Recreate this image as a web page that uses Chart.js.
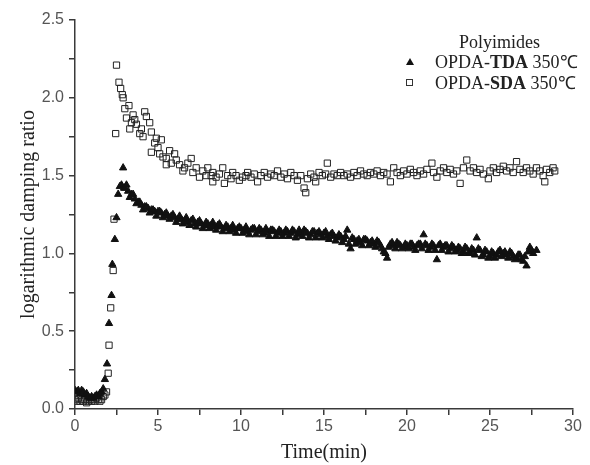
<!DOCTYPE html>
<html>
<head>
<meta charset="utf-8">
<script src="https://cdn.jsdelivr.net/npm/chart.js@4"></script>
<style>
  body { margin: 0; background: #fff; }
  #wrap { position: relative; width: 590px; height: 465px; }
  #legend { position: absolute; left: 0; top: 0; font-family: "Liberation Serif", serif; font-size: 18px; color: #222; }
  #legend div { position: absolute; white-space: nowrap; line-height: 22px; }
  .tri { position: absolute; width: 0; height: 0; border-left: 4px solid transparent; border-right: 4px solid transparent; border-bottom: 7px solid #111; }
  .sq { position: absolute; width: 5px; height: 5px; border: 1px solid #333; }
</style>
</head>
<body>
<div id="wrap">
  <canvas id="chart" width="590" height="465"></canvas>
  <div id="legend">
    <div style="left:459px; top:31px;">Polyimides</div>
    <span class="tri" style="left:406px; top:58px;"></span>
    <div style="left:435px; top:51px;">OPDA-<b>TDA</b> 350℃</div>
    <span class="sq" style="left:406px; top:79px;"></span>
    <div style="left:435px; top:72px;">OPDA-<b>SDA</b> 350℃</div>
  </div>
</div>
<script>
// time (min), logarithmic damping ratio
const tdaPoints = [
  [0,0.12],[0.1,0.11],[0.2,0.12],[0.3,0.10],[0.4,0.12],[0.5,0.11],[0.6,0.09],[0.7,0.10],[0.8,0.08],[0.9,0.07],
  [1.0,0.08],[1.1,0.07],[1.2,0.08],[1.3,0.09],[1.4,0.08],[1.5,0.10],[1.6,0.11],[1.7,0.13],[1.8,0.19],[1.93,0.29],
  [2.05,0.55],[2.2,0.73],[2.25,0.93],[2.4,1.09],[2.5,1.23],[2.6,1.38],[2.7,1.43],[2.8,1.44],[2.9,1.55],[2.95,1.42],
  [3.0,1.42],[3.2,1.40],[3.4,1.38],[3.6,1.35],[3.8,1.33],[4.0,1.31],[4.2,1.30],[4.4,1.29],[4.6,1.28],[4.8,1.27],
  [5.0,1.27],[5.2,1.26],[5.4,1.25],[5.6,1.24],[5.8,1.24],[6.0,1.23],[6.2,1.22],[6.4,1.22],[6.6,1.21],[6.8,1.20],
  [7.0,1.21],[7.2,1.19],[7.4,1.20],[7.6,1.19],[7.8,1.18],[8.0,1.19],[8.2,1.18],[8.4,1.17],[8.6,1.18],[8.8,1.17],
  [9.0,1.16],[9.2,1.17],[9.4,1.16],[9.6,1.15],[9.8,1.16],[10.0,1.16],[10.2,1.15],[10.4,1.14],[10.6,1.15],[10.8,1.16],
  [11.0,1.14],[11.2,1.15],[11.4,1.13],[11.6,1.14],[11.8,1.15],[12.0,1.14],[12.2,1.13],[12.4,1.14],[12.6,1.13],[12.8,1.14],
  [13.0,1.13],[13.2,1.14],[13.4,1.12],[13.6,1.13],[13.8,1.15],[14.0,1.13],[14.2,1.12],[14.4,1.14],[14.6,1.13],[14.8,1.12],
  [15.0,1.13],[15.2,1.11],[15.4,1.12],[15.6,1.11],[15.8,1.10],[16.0,1.11],[16.2,1.09],[16.4,1.15],[16.6,1.03],[16.8,1.09],
  [17.0,1.08],[17.2,1.07],[17.4,1.09],[17.6,1.08],[17.8,1.07],[18.0,1.06],[18.2,1.08],[18.4,1.05],[18.6,1.01],[18.8,0.97],
  [19.0,1.06],[19.2,1.05],[19.4,1.07],[19.6,1.05],[19.8,1.04],[20.0,1.05],[20.2,1.06],[20.4,1.04],[20.6,1.05],[20.8,1.06],
  [21.0,1.12],[21.2,1.05],[21.4,1.04],[21.6,1.05],[21.8,0.96],[22.0,1.06],[22.2,1.04],[22.4,1.05],[22.6,1.03],[22.8,1.04],
  [23.0,1.02],[23.2,1.03],[23.4,1.01],[23.6,1.03],[23.8,1.00],[24.0,1.02],[24.2,1.10],[24.4,1.02],[24.6,0.99],[24.8,1.01],
  [25.0,0.98],[25.2,1.00],[25.4,0.99],[25.6,1.02],[25.8,1.00],[26.0,0.99],[26.2,1.01],[26.4,0.98],[26.6,0.97],[26.8,0.99],
  [27.0,0.95],[27.2,0.92],[27.4,1.04],[27.6,1.00],[27.8,1.02],
  [3.1,1.44],[3.3,1.36],[3.5,1.38],[3.7,1.32],[3.9,1.33],[4.1,1.28],[4.3,1.30],[4.5,1.26],[4.7,1.28],[4.9,1.24],
  [5.1,1.27],[5.3,1.23],[5.5,1.26],[5.7,1.22],[5.9,1.25],[6.1,1.20],[6.3,1.24],[6.5,1.19],[6.7,1.23],[6.9,1.18],
  [7.1,1.22],[7.3,1.17],[7.5,1.21],[7.7,1.16],[7.9,1.20],[8.1,1.16],[8.3,1.20],[8.5,1.15],[8.7,1.19],[8.9,1.14],
  [9.1,1.18],[9.3,1.14],[9.5,1.18],[9.7,1.13],[9.9,1.17],[10.1,1.13],[10.3,1.17],[10.5,1.12],[10.7,1.16],[10.9,1.12],
  [11.1,1.16],[11.3,1.12],[11.5,1.16],[11.7,1.11],[11.9,1.15],[12.1,1.11],[12.3,1.15],[12.5,1.11],[12.7,1.15],[12.9,1.11],
  [13.1,1.15],[13.3,1.10],[13.5,1.15],[13.7,1.11],[13.9,1.14],[14.1,1.10],[14.3,1.14],[14.5,1.10],[14.7,1.14],[14.9,1.10],
  [15.1,1.14],[15.3,1.09],[15.5,1.13],[15.7,1.08],[15.9,1.12],[16.1,1.07],[16.3,1.11],[16.5,1.06],[16.7,1.10],[16.9,1.06],
  [17.1,1.09],[17.3,1.05],[17.5,1.09],[17.7,1.05],[17.9,1.08],[18.1,1.04],[18.3,1.07],[18.5,1.03],[18.7,1.00],[18.9,1.04],
  [19.1,1.07],[19.3,1.03],[19.5,1.06],[19.7,1.03],[19.9,1.06],[20.1,1.03],[20.3,1.06],[20.5,1.02],[20.7,1.06],[20.9,1.03],
  [21.1,1.06],[21.3,1.02],[21.5,1.06],[21.7,1.02],[21.9,1.05],[22.1,1.02],[22.3,1.05],[22.5,1.01],[22.7,1.05],[22.9,1.01],
  [23.1,1.04],[23.3,1.00],[23.5,1.04],[23.7,1.00],[23.9,1.03],[24.1,0.99],[24.3,1.03],[24.5,0.98],[24.7,1.02],[24.9,0.97],
  [25.1,1.01],[25.3,0.97],[25.5,1.01],[25.7,0.98],[25.9,1.01],[26.1,0.97],[26.3,1.00],[26.5,0.96],[26.7,0.99],[26.9,0.96],
  [27.1,0.98],[27.3,1.01],[27.5,1.02]
];

const sdaPoints = [
  [0,0.06],[0.1,0.05],[0.2,0.07],[0.3,0.05],[0.4,0.06],[0.5,0.05],[0.6,0.06],[0.7,0.04],[0.8,0.05],[0.9,0.06],
  [1.0,0.05],[1.1,0.06],[1.2,0.05],[1.3,0.07],[1.4,0.06],[1.5,0.05],[1.6,0.06],[1.7,0.08],[1.8,0.09],[1.9,0.11],
  [2.0,0.23],[2.05,0.41],[2.15,0.65],[2.3,0.89],[2.35,1.22],[2.45,1.77],[2.5,2.21],[2.65,2.10],[2.75,2.06],[2.85,2.02],
  [2.9,2.00],[3.0,1.93],[3.1,1.87],[3.25,1.95],[3.3,1.80],[3.4,1.84],[3.5,1.89],[3.6,1.86],[3.7,1.83],[3.9,1.77],
  [4.0,1.80],[4.1,1.75],[4.2,1.91],[4.3,1.88],[4.5,1.84],[4.6,1.78],[4.6,1.65],[4.8,1.71],[4.9,1.74],[5.0,1.68],
  [5.1,1.64],[5.2,1.73],[5.3,1.62],[5.5,1.61],[5.5,1.57],[5.7,1.66],[5.8,1.58],[6.0,1.64],[6.1,1.60],[6.3,1.57],
  [6.5,1.53],[6.6,1.55],[6.8,1.58],[7.0,1.61],[7.1,1.52],[7.3,1.55],[7.5,1.49],[7.7,1.53],[7.9,1.50],[8.0,1.55],
  [8.2,1.50],[8.3,1.52],[8.3,1.46],[8.5,1.49],[8.7,1.51],[8.9,1.55],[9.0,1.45],[9.2,1.50],[9.4,1.48],[9.5,1.52],
  [9.7,1.50],[9.9,1.47],[10.1,1.49],[10.3,1.50],[10.4,1.52],[10.6,1.49],[10.8,1.51],[11.0,1.46],[11.2,1.50],[11.4,1.52],
  [11.6,1.49],[11.8,1.51],[12.0,1.50],[12.2,1.53],[12.4,1.49],[12.6,1.51],[12.8,1.48],[13.0,1.52],[13.2,1.50],[13.4,1.47],
  [13.6,1.50],[13.8,1.42],[13.9,1.39],[14.0,1.48],[14.2,1.51],[14.4,1.49],[14.5,1.46],[14.7,1.52],[14.9,1.50],[15.1,1.51],
  [15.2,1.58],[15.4,1.49],[15.6,1.51],[15.8,1.50],[16.0,1.52],[16.2,1.50],[16.4,1.51],[16.6,1.49],[16.8,1.52],[17.0,1.50],
  [17.2,1.53],[17.4,1.51],[17.6,1.50],[17.8,1.52],[18.0,1.51],[18.2,1.53],[18.4,1.50],[18.6,1.52],[18.8,1.51],[19.0,1.46],
  [19.2,1.55],[19.4,1.52],[19.6,1.50],[19.8,1.53],[20.0,1.51],[20.2,1.54],[20.4,1.52],[20.6,1.50],[20.8,1.53],[21.0,1.51],
  [21.2,1.54],[21.5,1.58],[21.6,1.52],[21.8,1.49],[22.0,1.53],[22.2,1.55],[22.4,1.52],[22.6,1.54],[22.8,1.51],[23.0,1.53],
  [23.2,1.45],[23.4,1.55],[23.6,1.60],[23.8,1.53],[24.0,1.55],[24.2,1.52],[24.4,1.54],[24.6,1.51],[24.9,1.48],[25.0,1.53],
  [25.2,1.55],[25.4,1.52],[25.6,1.54],[25.8,1.56],[26.0,1.53],[26.2,1.55],[26.4,1.52],[26.6,1.59],[26.8,1.54],[27.0,1.52],
  [27.2,1.55],[27.4,1.53],[27.6,1.51],[27.8,1.55],[28.0,1.53],[28.2,1.50],[28.3,1.46],[28.4,1.54],[28.6,1.52],[28.8,1.55],
  [28.9,1.53]
];

const seriesNames = ['OPDA-TDA 350℃', 'OPDA-SDA 350℃'];
const xTitle = 'Time(min)';
const yTitle = 'logarithmic damping ratio';

const toXY = pts => pts.map(p => ({ x: p[0], y: p[1] }));
const axisColor = '#3a3a3a';

new Chart(document.getElementById('chart'), {
  type: 'scatter',
  data: {
    datasets: [
      {
        label: seriesNames[0],
        data: toXY(tdaPoints),
        pointStyle: 'triangle',
        pointRadius: 4.2,
        backgroundColor: '#111',
        borderColor: '#111',
        borderWidth: 1,
      },
      {
        label: seriesNames[1],
        data: toXY(sdaPoints),
        pointStyle: 'rect',
        pointRadius: 4.4,
        backgroundColor: 'rgba(0,0,0,0)',
        borderColor: '#222',
        borderWidth: 1,
      },
    ],
  },
  options: {
    responsive: false,
    animation: false,
    layout: { padding: { top: 20, right: 17, left: 0, bottom: 0 } },
    plugins: { legend: { display: false }, tooltip: { enabled: false } },
    scales: {
      x: {
        type: 'linear',
        min: 0,
        max: 30,
        afterFit: s => { s.height = 56; },
        border: { display: true, color: axisColor, width: 1.5 },
        grid: { drawOnChartArea: false, drawTicks: true, tickLength: 6, color: axisColor, lineWidth: 1.5 },
        ticks: {
          stepSize: 2.5,
          padding: 2,
          color: '#555',
          font: { family: 'Liberation Sans', size: 16 },
          maxRotation: 0,
          autoSkip: false,
          callback: v => (v % 5 === 0 ? v : ''),
        },
        title: {
          display: true,
          text: xTitle,
          color: '#222',
          font: { family: 'Liberation Serif', size: 20 },
          padding: { top: 0, bottom: 0 },
        },
      },
      y: {
        min: 0,
        max: 2.5,
        afterFit: s => { s.width = 75; },
        border: { display: true, color: axisColor, width: 1.5 },
        grid: { drawOnChartArea: false, drawTicks: true, tickLength: 6, color: axisColor, lineWidth: 1.5 },
        ticks: {
          stepSize: 0.25,
          padding: 5,
          color: '#555',
          font: { family: 'Liberation Sans', size: 16 },
          autoSkip: false,
          callback: v => (Math.abs(v * 2 - Math.round(v * 2)) < 1e-6 ? v.toFixed(1) : ''),
        },
        title: {
          display: true,
          text: yTitle,
          color: '#222',
          font: { family: 'Liberation Serif', size: 20 },
          padding: { top: 17, bottom: 0 },
        },
      },
    },
  },
});
</script>
</body>
</html>
